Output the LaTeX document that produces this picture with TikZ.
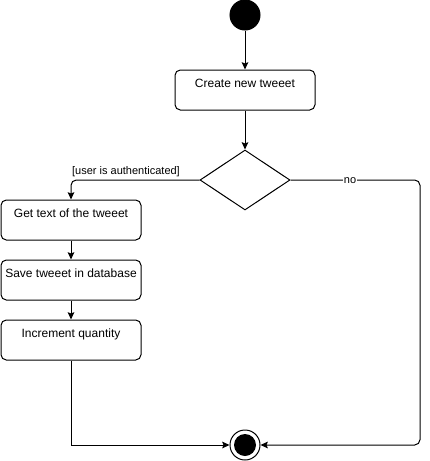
\documentclass[tikz,border=0pt]{standalone}
\usepackage{fontspec}
\setmainfont{Liberation Sans}
\usetikzlibrary{shapes.geometric,arrows.meta}
\begin{document}
\begin{tikzpicture}[x=0.75pt,y=-0.75pt,line width=0.75pt,
  lbl/.style={font=\fontsize{8.25}{10}\selectfont,inner sep=1pt},
  act/.style={draw,rounded corners=4pt,minimum width=105pt,minimum height=30pt,inner sep=0pt,
    text height=12.75pt,text depth=17.25pt,font=\fontsize{9}{10}\selectfont},
  arr/.style={-{Stealth[length=5.5pt,width=5pt,inset=1pt]}}]
\useasboundingbox (0,0) rectangle (429,461);
\node (start) at (245,15) [circle,fill=black,draw,minimum size=22.5pt,inner sep=0pt] {};
\node (create) at (245,90) [act] {Create new tweeet};
\node (dec) at (245,180) [diamond,draw,minimum width=67.5pt,minimum height=45pt,inner sep=0pt] {};
\node (get) at (71,220) [act] {Get text of the tweeet};
\node (save) at (71,280) [act] {Save tweeet in database};
\node (inc) at (71,340) [act] {Increment quantity};
\node (end) at (245,445) [circle,draw,minimum size=22.5pt,inner sep=0pt] {};
\node (endin) at (245,445) [circle,fill=black,minimum size=16.5pt,inner sep=0pt] {};
\coordinate (nocorner) at (420,445);
\draw[arr] (start) -- (create);
\draw[arr] (create) -- (dec);
\draw[arr,rounded corners=4pt] (dec.west) -| (get.north);
\node (yeslbl) at (126,172) [lbl] {[user is authenticated]};
\draw[arr,rounded corners=4pt] (dec.east) -| (nocorner) -- (end.east);
\node (nolbl) at (350,181) [lbl,fill=white] {no};
\draw[arr] (get) -- (save);
\draw[arr] (save) -- (inc);
\draw[arr] (inc.south) |- (end.west);
\end{tikzpicture}
\end{document}
